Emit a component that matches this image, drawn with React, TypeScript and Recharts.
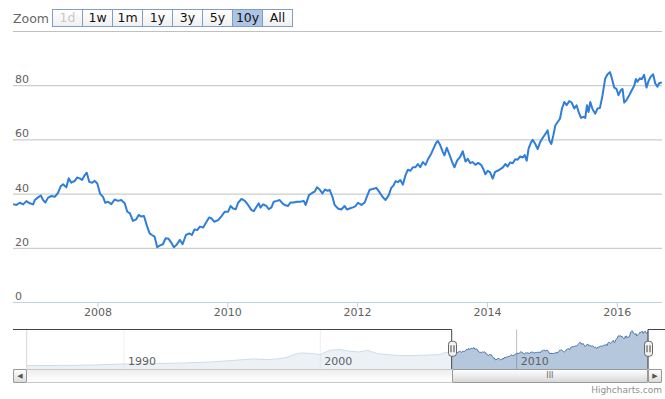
import {
  LineChart,
  Line,
  ComposedChart,
  Area,
  XAxis,
  YAxis,
  CartesianGrid,
  ReferenceArea,
  ReferenceLine,
} from "recharts";

// decimal years of the visible 10y window
const mainYears = [
  2006.692, 2006.743, 2006.795, 2006.846, 2006.897, 2006.949, 2007.0, 2007.026, 2007.077, 2007.118,
  2007.154, 2007.189, 2007.231, 2007.282, 2007.334, 2007.385, 2007.426, 2007.462, 2007.512, 2007.549,
  2007.589, 2007.642, 2007.677, 2007.718, 2007.754, 2007.785, 2007.826, 2007.866, 2007.908, 2007.949,
  2007.989, 2008.031, 2008.077, 2008.112, 2008.154, 2008.205, 2008.257, 2008.308, 2008.358, 2008.411,
  2008.451, 2008.492, 2008.538, 2008.589, 2008.626, 2008.666, 2008.708, 2008.758, 2008.795, 2008.831,
  2008.872, 2008.912, 2008.949, 2009.0, 2009.042, 2009.088, 2009.128, 2009.169, 2009.211, 2009.262,
  2009.303, 2009.354, 2009.405, 2009.446, 2009.488, 2009.528, 2009.569, 2009.62, 2009.672, 2009.712,
  2009.749, 2009.789, 2009.851, 2009.903, 2009.954, 2010.005, 2010.042, 2010.082, 2010.123, 2010.158,
  2010.211, 2010.262, 2010.312, 2010.365, 2010.4, 2010.442, 2010.477, 2010.503, 2010.543, 2010.595,
  2010.631, 2010.672, 2010.708, 2010.758, 2010.8, 2010.842, 2010.877, 2010.928, 2010.965, 2011.015,
  2011.066, 2011.118, 2011.169, 2011.2, 2011.251, 2011.303, 2011.338, 2011.374, 2011.415, 2011.457,
  2011.497, 2011.538, 2011.569, 2011.611, 2011.646, 2011.697, 2011.749, 2011.8, 2011.835, 2011.877,
  2011.928, 2011.969, 2012.005, 2012.057, 2012.108, 2012.143, 2012.185, 2012.235, 2012.288, 2012.328,
  2012.38, 2012.431, 2012.482, 2012.518, 2012.554, 2012.585, 2012.62, 2012.657, 2012.697, 2012.738,
  2012.774, 2012.815, 2012.851, 2012.892, 2012.928, 2012.965, 2013.005, 2013.046, 2013.088, 2013.134,
  2013.169, 2013.211, 2013.235, 2013.272, 2013.312, 2013.338, 2013.374, 2013.415, 2013.457, 2013.492,
  2013.534, 2013.58, 2013.62, 2013.662, 2013.697, 2013.734, 2013.774, 2013.815, 2013.857, 2013.903,
  2013.938, 2013.969, 2014.005, 2014.042, 2014.082, 2014.118, 2014.158, 2014.235, 2014.277, 2014.312,
  2014.349, 2014.389, 2014.431, 2014.466, 2014.505, 2014.543, 2014.574, 2014.605, 2014.635, 2014.672,
  2014.697, 2014.738, 2014.774, 2014.811, 2014.851, 2014.892, 2014.928, 2014.954, 2014.985, 2015.015,
  2015.046, 2015.082, 2015.118, 2015.149, 2015.185, 2015.22, 2015.262, 2015.297, 2015.338, 2015.374,
  2015.405, 2015.442, 2015.477, 2015.508, 2015.534, 2015.558, 2015.585, 2015.62, 2015.662, 2015.697,
  2015.734, 2015.774, 2015.815, 2015.851, 2015.888, 2015.918, 2015.954, 2015.989, 2016.02, 2016.057,
  2016.082, 2016.108, 2016.143, 2016.185, 2016.226, 2016.262, 2016.288, 2016.312, 2016.349, 2016.38,
  2016.415, 2016.451, 2016.482, 2016.518, 2016.554, 2016.585, 2016.62, 2016.646, 2016.688,
];

const mainPrices = [
  36.3, 36.0, 36.8, 36.2, 37.4, 36.6, 36.2, 37.8, 38.8, 39.5,
  37.8, 36.9, 38.7, 39.3, 39.0, 40.5, 42.9, 43.6, 42.5, 45.8,
  44.2, 44.9, 46.1, 45.8, 45.2, 46.6, 47.9, 44.5, 44.2, 44.9,
  43.9, 40.2, 39.0, 36.8, 37.2, 36.3, 38.0, 37.5, 37.8, 36.6,
  33.5, 32.9, 30.1, 30.7, 32.3, 31.7, 31.9, 28.0, 25.5, 24.9,
  24.3, 20.4, 21.0, 21.5, 23.7, 23.5, 22.1, 20.4, 21.3, 23.1,
  21.5, 24.9, 25.5, 24.9, 27.0, 26.7, 28.0, 27.7, 29.8, 31.4,
  31.0, 29.8, 30.4, 31.9, 33.5, 33.5, 35.6, 34.7, 34.4, 36.8,
  38.2, 37.5, 36.0, 34.1, 33.7, 35.3, 36.6, 35.0, 36.2, 35.6,
  34.4, 35.1, 37.2, 37.5, 37.8, 36.6, 36.0, 35.6, 36.9, 36.9,
  37.2, 37.2, 37.5, 36.0, 39.6, 40.5, 40.9, 42.5, 41.7, 40.2,
  41.7, 41.2, 41.6, 39.1, 36.0, 34.7, 34.3, 35.6, 34.3, 34.7,
  35.1, 35.6, 36.8, 36.0, 36.8, 39.1, 41.6, 41.9, 42.3, 41.0,
  39.1, 37.8, 39.7, 42.3, 43.2, 44.8, 44.4, 45.2, 43.5, 47.0,
  49.0, 48.6, 49.9, 49.9, 51.1, 49.9, 51.8, 50.8, 53.0, 54.9,
  56.8, 59.0, 59.6, 58.1, 55.6, 54.3, 57.1, 54.6, 51.8, 49.9,
  52.4, 53.7, 55.8, 52.0, 53.0, 51.5, 51.8, 50.8, 51.5, 50.8,
  49.2, 47.3, 48.6, 48.0, 45.7, 48.2, 48.6, 49.8, 51.1, 50.2,
  51.7, 51.4, 52.9, 52.7, 53.9, 53.5, 54.4, 52.3, 56.9, 59.1,
  60.0, 58.5, 56.6, 59.1, 60.7, 62.2, 63.5, 59.8, 58.5, 61.6,
  65.3, 66.6, 67.8, 71.6, 74.0, 72.8, 74.3, 73.8, 71.6, 72.8,
  70.3, 68.1, 68.5, 68.1, 72.8, 70.3, 74.0, 71.3, 69.7, 71.6,
  71.8, 76.5, 82.7, 84.2, 85.0, 82.7, 79.3, 78.8, 76.5, 78.4,
  78.8, 73.8, 74.7, 76.5, 78.4, 80.0, 82.5, 81.5, 82.7, 82.5,
  84.0, 79.3, 81.7, 83.4, 84.2, 80.9, 79.6, 80.9, 81.2,
];

// older history, only shown in the navigator
const historyYears = [
  1985.06, 1986.7, 1988.4, 1990.0, 1991.3, 1993.0, 1994.4, 1995.2, 1996.1, 1996.6,
  1997.3, 1997.8, 1998.3, 1998.8, 1999.1, 1999.5, 2000.0, 2000.5, 2001.0, 2001.5,
  2002.0, 2002.4, 2002.9, 2003.4, 2004.0, 2004.7, 2005.4, 2006.1, 2006.4, 2006.65,
];
const historyPrices = [
  7.6, 7.8, 8.9, 11.2, 12.0, 13.4, 15.7, 17.9, 20.9, 22.3,
  21.0, 22.3, 26.0, 34.4, 35.8, 34.4, 32.2, 41.8, 43.3, 39.5,
  38.0, 41.8, 34.4, 32.2, 29.9, 29.9, 31.0, 32.2, 37.3, 35.8,
];

const zoomButtons = ["1d", "1w", "1m", "1y", "3y", "5y", "10y", "All"];
const yearTicks = [2008, 2010, 2012, 2014, 2016];
const priceTicks = [0, 20, 40, 60, 80, 100];
const navTicks = [1990, 2000, 2010];

const viewStart = 2006.69;
const viewEnd = 2016.69;
const navStart = 1985.06;
const navMax = 88;

const mainData = mainYears.map((t, i) => ({ t, v: mainPrices[i] }));
const navData = [
  ...historyYears.map((t, i) => ({ t, v: historyPrices[i] })),
  ...mainData,
];

const FONT = "'DejaVu Sans', 'Lucida Grande', Verdana, sans-serif";
const LABEL = "#606060";

function PriceTick(props: any) {
  const { y, payload } = props;
  if (payload.value === 100) return <g />;
  return (
    <text x={15} y={y - 2.5} fill={LABEL} fontSize={11} fontFamily={FONT} textAnchor="start">
      {payload.value}
    </text>
  );
}

function NavTick(props: any) {
  const { x, y, payload } = props;
  return (
    <text x={x + 4} y={y - 4} fill={LABEL} fontSize={11} fontFamily={FONT} textAnchor="start">
      {payload.value}
    </text>
  );
}

function Handle(props: any) {
  const vb = props.viewBox || {};
  const cx = Math.round(vb.x) + 0.5;
  const cy = vb.y + vb.height / 2;
  return (
    <g>
      <rect x={cx - 4} y={cy - 8} width={8} height={15} rx={3} fill="#f2f2f2" stroke="#666" strokeWidth={1} />
      <line x1={cx - 1.5} x2={cx - 1.5} y1={cy - 4} y2={cy + 3} stroke="#444" />
      <line x1={cx + 1.5} x2={cx + 1.5} y1={cy - 4} y2={cy + 3} stroke="#444" />
    </g>
  );
}

function RangeSelector() {
  return (
    <div style={{ position: "absolute", left: 13, top: 9, display: "flex", alignItems: "center", fontFamily: FONT }}>
      <span style={{ fontSize: 12.5, color: "#666", marginRight: 3 }}>Zoom</span>
      {zoomButtons.map((b, i) => (
        <div
          key={b}
          style={{
            width: 31,
            height: 18,
            boxSizing: "border-box",
            border: "1px solid #7f9dc6",
            marginLeft: i === 0 ? 0 : -1,
            background: b === "10y" ? "#acc4e6" : "linear-gradient(#ffffff, #f0f0f0)",
            color: b === "1d" ? "#c8c8c8" : "#111",
            fontSize: 12.5,
            lineHeight: "16px",
            textAlign: "center",
          }}
        >
          {b}
        </div>
      ))}
    </div>
  );
}

function Scrollbar() {
  const navLeft = 27;
  const navWidth = 621;
  const thumbLeft = navLeft + ((viewStart - navStart) / (viewEnd - navStart)) * navWidth;
  const thumbRight = navLeft + navWidth;
  const btn: any = {
    position: "absolute",
    top: 369,
    width: 14,
    height: 14,
    boxSizing: "border-box",
    border: "1px solid #999",
    borderRadius: 2,
    background: "linear-gradient(#ffffff, #dcdcdc)",
    color: "#555",
    fontSize: 7,
    lineHeight: "12px",
    textAlign: "center",
  };
  return (
    <>
      {/* navigator outline ends over the scrollbar buttons */}
      <div style={{ position: "absolute", left: 13, top: 329, width: navLeft - 13, height: 1, background: "#444" }} />
      <div style={{ position: "absolute", left: thumbRight, top: 329, width: 665 - thumbRight, height: 1, background: "#444" }} />
      <div
        style={{
          position: "absolute",
          left: 13,
          top: 369,
          width: 649,
          height: 14,
          boxSizing: "border-box",
          border: "1px solid #c8c8c8",
          background: "linear-gradient(#eeeeee, #ffffff)",
        }}
      />
      <div
        style={{
          position: "absolute",
          left: thumbLeft,
          top: 369,
          width: thumbRight - thumbLeft,
          height: 14,
          boxSizing: "border-box",
          border: "1px solid #999",
          borderRadius: 2,
          background: "linear-gradient(#ffffff, #d8d8d8)",
          color: "#666",
          fontSize: 8,
          lineHeight: "12px",
          textAlign: "center",
          fontFamily: FONT,
        }}
      >
        III
      </div>
      <div style={{ ...btn, left: 13 }}>◀</div>
      <div style={{ ...btn, left: 648 }}>▶</div>
    </>
  );
}

export default function App() {
  return (
    <div style={{ position: "relative", width: 665, height: 399, background: "#fff", fontFamily: FONT, overflow: "hidden" }}>
      <style>{"body{margin:0}"}</style>
      <RangeSelector />

      <div style={{ position: "absolute", left: 0, top: 0 }}>
        <LineChart width={665} height={320} data={mainData} margin={{ top: 31.5, right: 3, bottom: 0, left: 13 }}>
          <CartesianGrid vertical={false} stroke="#c0c0c0" />
          <XAxis
            type="number"
            dataKey="t"
            domain={[viewStart, viewEnd]}
            ticks={yearTicks}
            allowDataOverflow
            height={17.5}
            axisLine={{ stroke: "#c0d0e0" }}
            tickLine={{ stroke: "#c0d0e0" }}
            tickSize={5}
            tickMargin={1}
            tick={{ fill: LABEL, fontSize: 11, fontFamily: FONT }}
          />
          <YAxis
            type="number"
            domain={[0, 100]}
            ticks={priceTicks}
            mirror
            width={30}
            interval={0}
            axisLine={false}
            tickLine={false}
            tick={PriceTick}
          />
          <Line
            type="linear"
            dataKey="v"
            stroke="#2f7ed8"
            strokeWidth={2}
            strokeLinejoin="round"
            dot={false}
            isAnimationActive={false}
          />
        </LineChart>
      </div>

      <div style={{ position: "absolute", left: 0, top: 328 }}>
        <ComposedChart width={665} height={42} data={navData} margin={{ top: 1.5, right: 17, bottom: 0, left: 27 }}>
          <CartesianGrid horizontal={false} stroke="#bcbcbc" />
          <XAxis
            type="number"
            dataKey="t"
            domain={[navStart, viewEnd]}
            ticks={navTicks}
            height={1}
            interval={0}
            tickSize={0}
            tickMargin={0}
            axisLine={false}
            tickLine={false}
            tick={NavTick}
          />
          <YAxis hide domain={[0, navMax]} />
          <Area
            type="linear"
            dataKey="v"
            stroke="#4572a7"
            strokeWidth={1}
            fill="#4572a7"
            fillOpacity={0.4}
            isAnimationActive={false}
          />
          <ReferenceArea x1={navStart} x2={viewStart} fill="#ffffff" fillOpacity={0.75} stroke="none" />
          <ReferenceLine segment={[{ x: navStart, y: navMax }, { x: viewStart, y: navMax }]} stroke="#444" />
          <ReferenceLine x={viewStart} stroke="#444" label={(p: any) => <Handle {...p} />} />
          <ReferenceLine x={viewEnd} stroke="#444" label={(p: any) => <Handle {...p} />} />
        </ComposedChart>
      </div>

      <Scrollbar />

      <div style={{ position: "absolute", right: 3, top: 385, fontSize: 9, color: "#909090", fontFamily: FONT }}>
        Highcharts.com
      </div>
    </div>
  );
}
